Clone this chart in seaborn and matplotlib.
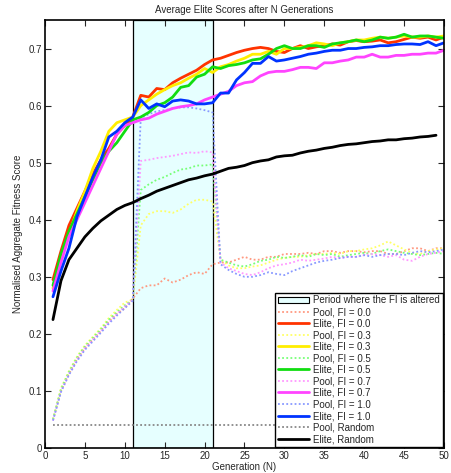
import numpy as np
import matplotlib
matplotlib.use('Agg')
import matplotlib.pyplot as plt
from matplotlib.patches import Patch
from matplotlib.lines import Line2D
import seaborn as sns

# ── DATA ──────────────────────────────────────────────────────────────────────
gens = np.arange(1, 51)
gens_random = np.arange(1, 50)

elite_fi00 = [0.295, 0.345, 0.39, 0.42, 0.45, 0.48, 0.505, 0.525, 0.55, 0.565,
              0.58, 0.618, 0.615, 0.63, 0.628, 0.64, 0.648, 0.655, 0.662, 0.672,
              0.68, 0.683, 0.688, 0.693, 0.697, 0.70, 0.702, 0.70, 0.695, 0.693,
              0.70, 0.705, 0.70, 0.703, 0.705, 0.708, 0.706, 0.712, 0.714, 0.712,
              0.713, 0.715, 0.71, 0.712, 0.716, 0.72, 0.718, 0.72, 0.715, 0.72]
elite_fi03 = [0.28, 0.335, 0.375, 0.415, 0.45, 0.49, 0.52, 0.555, 0.57, 0.575,
              0.58, 0.60, 0.61, 0.62, 0.628, 0.635, 0.64, 0.648, 0.655, 0.665,
              0.658, 0.668, 0.672, 0.678, 0.683, 0.69, 0.69, 0.695, 0.69, 0.70,
              0.70, 0.702, 0.705, 0.71, 0.708, 0.705, 0.71, 0.712, 0.715, 0.715,
              0.718, 0.72, 0.718, 0.72, 0.722, 0.72, 0.72, 0.722, 0.72, 0.722]
elite_fi05 = [0.285, 0.34, 0.38, 0.41, 0.44, 0.47, 0.50, 0.52, 0.535, 0.555,
              0.575, 0.58, 0.588, 0.60, 0.605, 0.615, 0.632, 0.635, 0.65, 0.655,
              0.668, 0.665, 0.67, 0.672, 0.675, 0.68, 0.682, 0.69, 0.70, 0.705,
              0.70, 0.70, 0.705, 0.705, 0.702, 0.708, 0.71, 0.712, 0.715, 0.712,
              0.715, 0.72, 0.718, 0.72, 0.725, 0.72, 0.722, 0.722, 0.72, 0.718]
elite_fi07 = [0.275, 0.325, 0.37, 0.40, 0.43, 0.46, 0.49, 0.52, 0.55, 0.565,
              0.57, 0.575, 0.578, 0.585, 0.59, 0.595, 0.598, 0.60, 0.603, 0.61,
              0.615, 0.62, 0.625, 0.635, 0.64, 0.642, 0.652, 0.658, 0.66, 0.66,
              0.663, 0.667, 0.667, 0.665, 0.675, 0.675, 0.678, 0.68, 0.685, 0.685,
              0.69, 0.685, 0.685, 0.688, 0.688, 0.69, 0.69, 0.692, 0.692, 0.697]
elite_fi10 = [0.265, 0.31, 0.35, 0.405, 0.44, 0.475, 0.505, 0.545, 0.555, 0.57,
              0.58, 0.61, 0.595, 0.603, 0.598, 0.608, 0.61, 0.608, 0.603, 0.603,
              0.605, 0.622, 0.622, 0.645, 0.658, 0.674, 0.674, 0.686, 0.678, 0.68,
              0.683, 0.686, 0.69, 0.692, 0.695, 0.697, 0.697, 0.70, 0.70, 0.702,
              0.703, 0.705, 0.705, 0.707, 0.708, 0.708, 0.707, 0.712, 0.705, 0.71]
elite_random = [0.225, 0.293, 0.33, 0.35, 0.37, 0.385, 0.398, 0.408, 0.418, 0.425,
                0.43, 0.437, 0.443, 0.45, 0.455, 0.46, 0.465, 0.47, 0.473, 0.477,
                0.48, 0.485, 0.49, 0.492, 0.495, 0.50, 0.503, 0.505, 0.51, 0.512,
                0.513, 0.517, 0.52, 0.522, 0.525, 0.527, 0.53, 0.532, 0.533, 0.535,
                0.537, 0.538, 0.54, 0.54, 0.542, 0.543, 0.545, 0.546, 0.548]

pool_fi00 = [0.05, 0.10, 0.13, 0.155, 0.175, 0.19, 0.205, 0.222, 0.235, 0.245,
             0.262, 0.28, 0.285, 0.285, 0.297, 0.29, 0.295, 0.303, 0.308, 0.305,
             0.322, 0.325, 0.325, 0.33, 0.335, 0.33, 0.33, 0.335, 0.335, 0.34,
             0.34, 0.34, 0.342, 0.34, 0.345, 0.345, 0.342, 0.345, 0.345, 0.343,
             0.345, 0.345, 0.34, 0.34, 0.345, 0.35, 0.35, 0.345, 0.35, 0.35]
pool_fi03 = [0.05, 0.105, 0.135, 0.16, 0.18, 0.195, 0.21, 0.228, 0.242, 0.255,
             0.26, 0.39, 0.41, 0.415, 0.415, 0.412, 0.418, 0.428, 0.435, 0.435,
             0.432, 0.33, 0.32, 0.315, 0.315, 0.318, 0.32, 0.325, 0.33, 0.333,
             0.335, 0.335, 0.338, 0.34, 0.34, 0.342, 0.34, 0.345, 0.345, 0.348,
             0.35, 0.355, 0.362, 0.355, 0.348, 0.342, 0.34, 0.345, 0.348, 0.35]
pool_fi05 = [0.05, 0.103, 0.133, 0.158, 0.178, 0.193, 0.208, 0.225, 0.238, 0.25,
             0.26, 0.452, 0.462, 0.47, 0.475, 0.482, 0.488, 0.49, 0.495, 0.495,
             0.497, 0.33, 0.325, 0.32, 0.318, 0.322, 0.328, 0.33, 0.335, 0.333,
             0.335, 0.338, 0.335, 0.34, 0.338, 0.34, 0.335, 0.338, 0.34, 0.342,
             0.34, 0.345, 0.348, 0.345, 0.342, 0.34, 0.338, 0.34, 0.342, 0.34]
pool_fi07 = [0.048, 0.10, 0.13, 0.155, 0.175, 0.19, 0.205, 0.22, 0.235, 0.248,
             0.26, 0.503, 0.505, 0.508, 0.51, 0.512, 0.515, 0.518, 0.517, 0.52,
             0.518, 0.325, 0.315, 0.31, 0.305, 0.303, 0.308, 0.315, 0.32, 0.322,
             0.325, 0.33, 0.328, 0.33, 0.332, 0.335, 0.333, 0.335, 0.335, 0.338,
             0.34, 0.338, 0.335, 0.338, 0.33, 0.328, 0.335, 0.34, 0.342, 0.345]
pool_fi10 = [0.048, 0.098, 0.128, 0.152, 0.172, 0.187, 0.202, 0.218, 0.232, 0.245,
             0.258, 0.578, 0.585, 0.59, 0.592, 0.595, 0.597, 0.597, 0.595, 0.592,
             0.588, 0.322, 0.312, 0.305, 0.30, 0.30, 0.303, 0.308, 0.305, 0.303,
             0.31, 0.315, 0.32, 0.325, 0.328, 0.33, 0.333, 0.335, 0.335, 0.338,
             0.335, 0.338, 0.34, 0.34, 0.338, 0.342, 0.345, 0.343, 0.345, 0.348]
pool_random = [0.041] * 50

fi_start, fi_end = 11, 21

# ── STYLE ─────────────────────────────────────────────────────────────────────
sns.set_style('ticks')
plt.rcParams['font.family'] = ['Liberation Sans', 'DejaVu Sans']
plt.rcParams['xtick.direction'] = 'in'
plt.rcParams['ytick.direction'] = 'in'

fig = plt.figure(figsize=(4.52, 4.73), dpi=100)
ax = fig.add_axes([45 / 452, 25 / 473, 399 / 452, 428 / 473])

ax.axvspan(fi_start, fi_end, facecolor='#e6ffff', edgecolor='black', lw=0.9, zorder=0)

pool_style = dict(linestyle=(0, (1, 1.3)), linewidth=1.3)
elite_style = dict(linestyle='-', linewidth=2.0)

series = [
    ('FI = 0.0', pool_fi00, elite_fi00, '#ff9980', '#ff3300'),
    ('FI = 0.3', pool_fi03, elite_fi03, '#ffff66', '#ffee00'),
    ('FI = 0.5', pool_fi05, elite_fi05, '#77ff77', '#11dd11'),
    ('FI = 0.7', pool_fi07, elite_fi07, '#ff99ff', '#ff44ff'),
    ('FI = 1.0', pool_fi10, elite_fi10, '#8899ff', '#0033ff'),
]

handles = [Patch(facecolor='#e6ffff', edgecolor='black', lw=0.8,
                 label='Period where the FI is altered')]

for name, pool, elite, pc, ec in series:
    sns.lineplot(x=gens, y=pool, ax=ax, color=pc, **pool_style)
    handles.append(Line2D([], [], color=pc, label=f'Pool, {name}', **pool_style))
    handles.append(Line2D([], [], color=ec, label=f'Elite, {name}', **elite_style))

sns.lineplot(x=gens, y=pool_random, ax=ax, color='#888888', **pool_style)
handles.append(Line2D([], [], color='#888888', label='Pool, Random', **pool_style))
handles.append(Line2D([], [], color='black', label='Elite, Random', **elite_style))

for name, pool, elite, pc, ec in series:
    sns.lineplot(x=gens, y=elite, ax=ax, color=ec, **elite_style)
sns.lineplot(x=gens_random, y=elite_random, ax=ax, color='black', **elite_style)

ax.set_xlim(0, 50)
ax.set_ylim(0, 0.75)
ax.set_xticks(np.arange(0, 51, 5))
ax.set_yticks(np.arange(0, 0.71, 0.1))
ax.set_yticklabels(['0'] + [f'{v:.1f}' for v in np.arange(0.1, 0.71, 0.1)])
ax.tick_params(axis='both', which='both', top=True, right=True, length=4,
               width=0.8, labelsize=7, pad=2)
for sp in ax.spines.values():
    sp.set_linewidth(1.2)
    sp.set_color('black')

ax.set_xlabel('Generation (N)', fontsize=7, labelpad=1)
ax.set_ylabel('Normalised Aggregate Fitness Score', fontsize=7, labelpad=4)
ax.set_title('Average Elite Scores after N Generations', fontsize=7, pad=5)

leg = ax.legend(handles=handles, loc='lower right', fontsize=7,
                frameon=True, fancybox=False, framealpha=1, edgecolor='black',
                handlelength=3.2, handletextpad=0.4, labelspacing=0.16,
                borderpad=0.3, borderaxespad=0.1)
leg.get_frame().set_linewidth(1.0)

fig.savefig('out.png', dpi=100)
